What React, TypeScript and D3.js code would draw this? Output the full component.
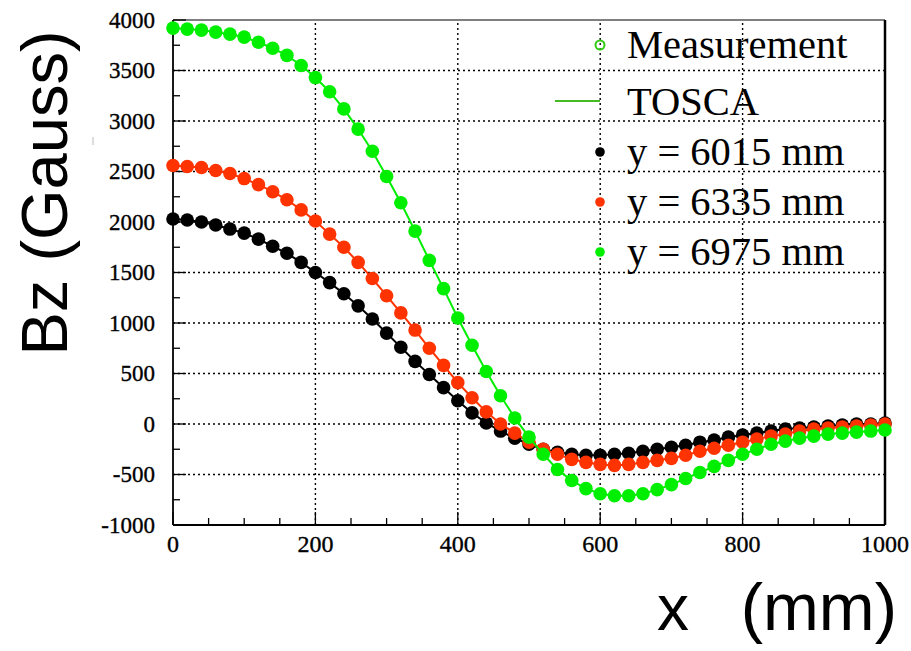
import React from "react";
import * as d3 from "d3";

const xPositions = [0, 20, 40, 60, 80, 100, 120, 140, 160, 180, 200, 220, 240, 260, 280, 300, 320, 340, 360, 380, 400, 420, 440, 460, 480, 500, 520, 540, 560, 580, 600, 620, 640, 660, 680, 700, 720, 740, 760, 780, 800, 820, 840, 860, 880, 900, 920, 940, 960, 980, 1000];

const bz6015 = [2030, 2020, 2000, 1970, 1930, 1890, 1830, 1760, 1690, 1600, 1500, 1400, 1290, 1170, 1040, 900, 760, 620, 490, 360, 230, 110, 10, -70, -140, -200, -250, -280, -300, -310, -310, -300, -290, -270, -250, -230, -210, -180, -160, -130, -110, -90, -70, -50, -40, -30, -20, -10, 0, 0, 10];

const bz6335 = [2560, 2550, 2540, 2510, 2480, 2430, 2370, 2300, 2220, 2120, 2010, 1880, 1750, 1600, 1440, 1270, 1100, 930, 750, 580, 410, 260, 120, 0, -90, -180, -250, -300, -350, -380, -400, -410, -400, -380, -360, -340, -310, -270, -240, -210, -180, -150, -120, -100, -70, -50, -40, -30, -20, -10, 0];

const bz6975 = [3920, 3910, 3900, 3880, 3860, 3830, 3780, 3720, 3650, 3550, 3430, 3290, 3120, 2920, 2700, 2450, 2190, 1910, 1620, 1340, 1050, 780, 520, 280, 60, -130, -300, -450, -560, -640, -690, -710, -710, -690, -650, -600, -540, -480, -420, -360, -300, -250, -200, -170, -140, -120, -100, -90, -80, -70, -60];

const seriesNames = ["y = 6015 mm", "y = 6335 mm", "y = 6975 mm"];
const seriesColors = ["#000000", "#ff3300", "#00ee00"];
const seriesValues = [bz6015, bz6335, bz6975];

const xTicksMajor = [0, 200, 400, 600, 800, 1000];
const xTicksMinor = [50, 100, 150, 250, 300, 350, 450, 500, 550, 650, 700, 750, 850, 900, 950];
const yTicksMajor = [-1000, -500, 0, 500, 1000, 1500, 2000, 2500, 3000, 3500, 4000];
const yTicksMinor = [-750, -250, 250, 750, 1250, 1750, 2250, 2750, 3250, 3750];

export default function App() {
  const W = 911, H = 651;
  const x = d3.scaleLinear().domain([0, 1000]).range([173, 885]);
  const y = d3.scaleLinear().domain([-1000, 4000]).range([525, 20]);
  const serif = "'Liberation Serif', 'Times New Roman', serif";
  const sans = "'Liberation Sans', Arial, sans-serif";
  const line = d3.line<number>().x((_, i) => x(xPositions[i])).y((d) => y(d));

  return (
    <svg width={W} height={H} style={{ position: "absolute", left: 0, top: 0, background: "#fff" }}>
      <rect x={0} y={0} width={W} height={H} fill="#fff" />
      {/* grid */}
      {xTicksMajor.filter((t) => t > 0 && t < 1000).map((t) => (
        <line key={"gx" + t} x1={x(t)} x2={x(t)} y1={y(-1000)} y2={y(4000)} stroke="#000" strokeWidth={1.4} strokeDasharray="2,3" />
      ))}
      {yTicksMajor.filter((t) => t > -1000 && t < 4000).map((t) => (
        <line key={"gy" + t} x1={x(0)} x2={x(1000)} y1={y(t)} y2={y(t)} stroke="#000" strokeWidth={1.4} strokeDasharray="2,3" />
      ))}
      {/* ticks */}
      {xTicksMajor.map((t) => (
        <line key={"tx" + t} x1={x(t)} x2={x(t)} y1={y(-1000)} y2={y(-1000) - 13} stroke="#000" strokeWidth={1.3} />
      ))}
      {xTicksMinor.map((t) => (
        <line key={"tmx" + t} x1={x(t)} x2={x(t)} y1={y(-1000)} y2={y(-1000) - 7} stroke="#000" strokeWidth={1.3} />
      ))}
      {yTicksMajor.map((t) => (
        <line key={"ty" + t} x1={x(0)} x2={x(0) + 13} y1={y(t)} y2={y(t)} stroke="#000" strokeWidth={1.3} />
      ))}
      {yTicksMinor.map((t) => (
        <line key={"tmy" + t} x1={x(0)} x2={x(0) + 7} y1={y(t)} y2={y(t)} stroke="#000" strokeWidth={1.3} />
      ))}
      {/* frame */}
      <line x1={x(0)} x2={x(1000)} y1={y(4000)} y2={y(4000)} stroke="#000" strokeWidth={1.2} />
      <line x1={x(0)} x2={x(0)} y1={y(4000)} y2={y(-1000)} stroke="#000" strokeWidth={1.8} />
      <line x1={x(0)} x2={x(1000)} y1={y(-1000)} y2={y(-1000)} stroke="#000" strokeWidth={1.8} />
      <line x1={x(1000)} x2={x(1000)} y1={y(4000)} y2={y(-1000)} stroke="#000" strokeWidth={2.5} />
      {/* tick labels */}
      {yTicksMajor.map((t) => (
        <text key={"ly" + t} x={155} y={y(t) + 7.5} textAnchor="end" fontFamily={serif} fontSize={23} fill="#000" stroke="#000" strokeWidth={0.35}>{t}</text>
      ))}
      {xTicksMajor.map((t) => (
        <text key={"lx" + t} x={x(t)} y={552} textAnchor="middle" fontFamily={serif} fontSize={24} fill="#000" stroke="#000" strokeWidth={0.35}>{t}</text>
      ))}
      {/* series */}
      {seriesValues.map((vals, si) => (
        <g key={"s" + si}>
          <path d={line(vals) || ""} fill="none" stroke={seriesColors[si]} strokeWidth={2} />
          {vals.map((v, i) => (
            <circle key={i} cx={x(xPositions[i])} cy={y(v)} r={6.8} fill={seriesColors[si]} />
          ))}
        </g>
      ))}
      {/* legend */}
      <circle cx={600} cy={45} r={4.5} fill="none" stroke="#33cc11" strokeWidth={2} />
      <text x={627} y={58} fontFamily={serif} fontSize={40.5} fill="#000">Measurement</text>
      <line x1={555} x2={600} y1={101} y2={101} stroke="#44bb22" strokeWidth={2} />
      <text x={627} y={115} fontFamily={serif} fontSize={40.5} fill="#000">TOSCA</text>
      {seriesNames.map((n, i) => (
        <g key={"lg" + i}>
          <circle cx={600} cy={152 + i * 50} r={4.8} fill={seriesColors[i]} />
          <text x={627} y={165 + i * 50} fontFamily={serif} fontSize={40.5} fill="#000">{n}</text>
        </g>
      ))}
      {/* axis titles */}
      <text transform="translate(67,193) rotate(-90)" textAnchor="middle" fontFamily={sans} fontSize={65} fill="#000">Bz (Gauss)</text>
      <text x={657} y={630} fontFamily={sans} fontSize={64} fill="#000">x</text>
      <text x={897} y={630} textAnchor="end" fontFamily={sans} fontSize={67} fill="#000">(mm)</text>
      <line x1={93} x2={93} y1={137} y2={145} stroke="#bbb" strokeWidth={1} />
    </svg>
  );
}
